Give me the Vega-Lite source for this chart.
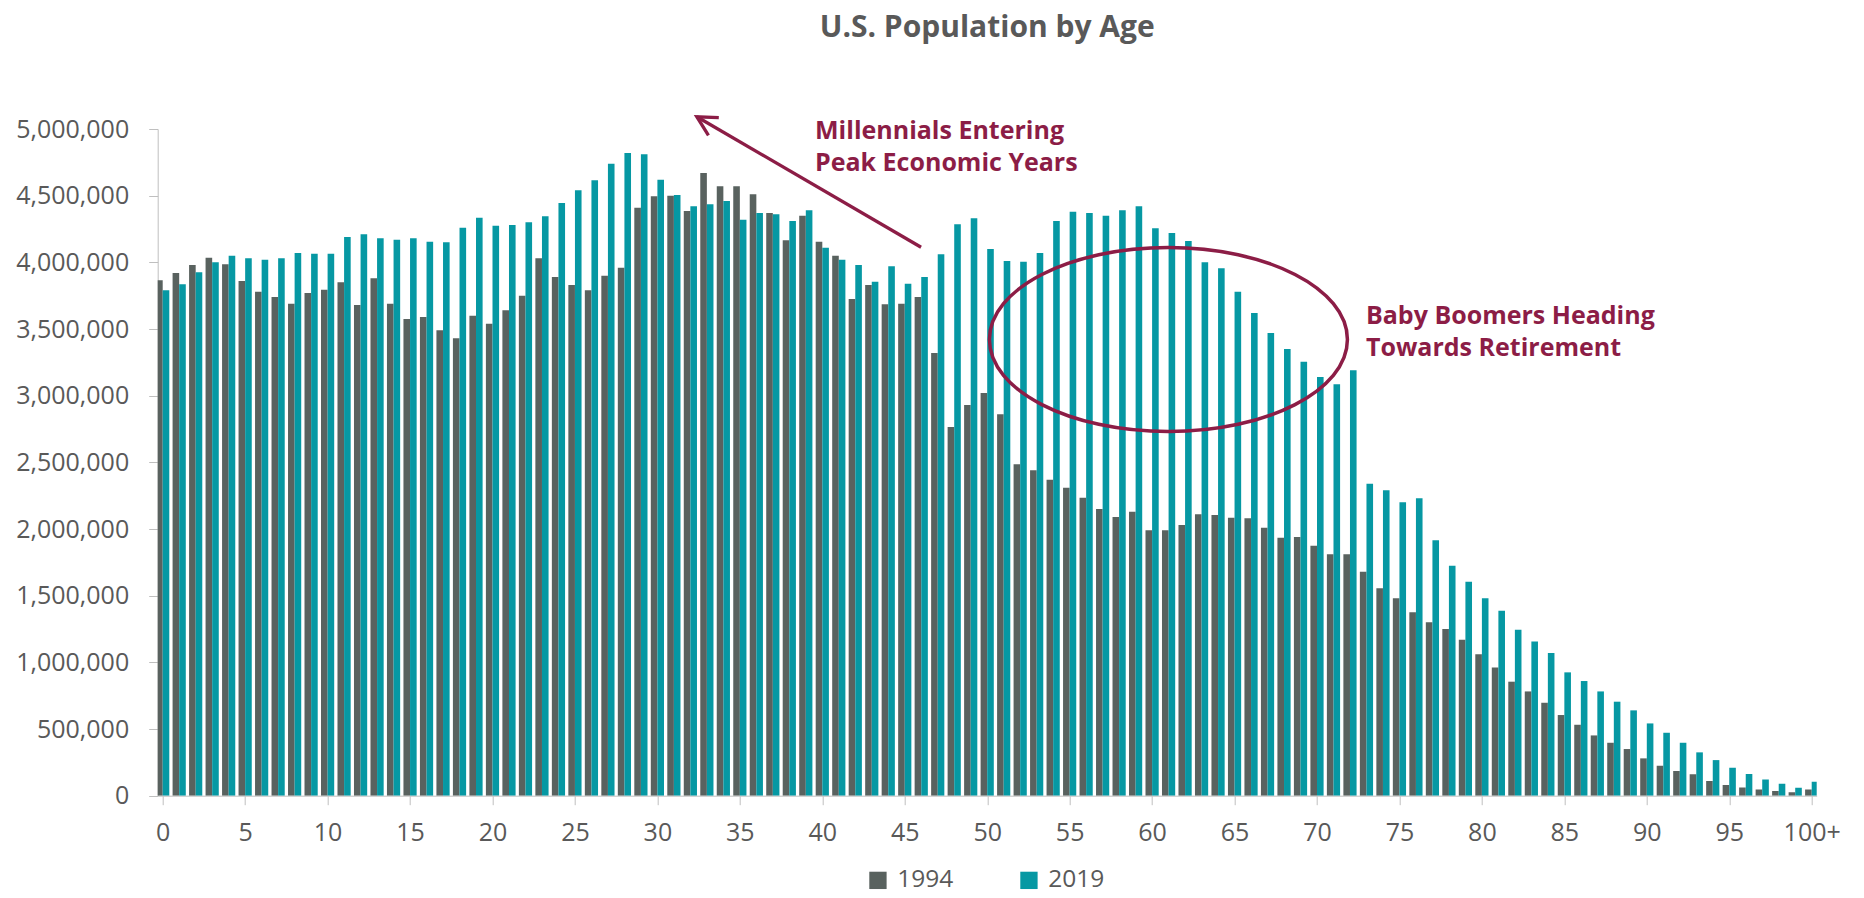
{
  "$schema": "https://vega.github.io/schema/vega-lite/v6.json",
  "width": 1659,
  "height": 666.7,
  "autosize": {"type": "none"},
  "padding": {"left": 157.7, "top": 129, "right": 47.3, "bottom": 102.3},
  "background": "white",
  "title": {"text": "U.S. Population by Age", "font": "Open Sans", "fontSize": 30, "fontWeight": "bold", "color": "#595959", "anchor": "middle", "frame": "group", "offset": 67},
  "config": {"view": {"stroke": null}, "font": "Open Sans"},
  "datasets": {
    "population": [
      {"age":0,"year":"1994","pop":3865000},{"age":1,"year":"1994","pop":3920000},{"age":2,"year":"1994","pop":3980000},{"age":3,"year":"1994","pop":4035000},{"age":4,"year":"1994","pop":3985000},
      {"age":5,"year":"1994","pop":3860000},{"age":6,"year":"1994","pop":3780000},{"age":7,"year":"1994","pop":3740000},{"age":8,"year":"1994","pop":3690000},{"age":9,"year":"1994","pop":3770000},
      {"age":10,"year":"1994","pop":3795000},{"age":11,"year":"1994","pop":3850000},{"age":12,"year":"1994","pop":3680000},{"age":13,"year":"1994","pop":3880000},{"age":14,"year":"1994","pop":3690000},
      {"age":15,"year":"1994","pop":3575000},{"age":16,"year":"1994","pop":3590000},{"age":17,"year":"1994","pop":3490000},{"age":18,"year":"1994","pop":3430000},{"age":19,"year":"1994","pop":3600000},
      {"age":20,"year":"1994","pop":3540000},{"age":21,"year":"1994","pop":3640000},{"age":22,"year":"1994","pop":3750000},{"age":23,"year":"1994","pop":4030000},{"age":24,"year":"1994","pop":3890000},
      {"age":25,"year":"1994","pop":3830000},{"age":26,"year":"1994","pop":3790000},{"age":27,"year":"1994","pop":3900000},{"age":28,"year":"1994","pop":3960000},{"age":29,"year":"1994","pop":4410000},
      {"age":30,"year":"1994","pop":4495000},{"age":31,"year":"1994","pop":4500000},{"age":32,"year":"1994","pop":4385000},{"age":33,"year":"1994","pop":4670000},{"age":34,"year":"1994","pop":4570000},
      {"age":35,"year":"1994","pop":4570000},{"age":36,"year":"1994","pop":4510000},{"age":37,"year":"1994","pop":4370000},{"age":38,"year":"1994","pop":4165000},{"age":39,"year":"1994","pop":4350000},
      {"age":40,"year":"1994","pop":4155000},{"age":41,"year":"1994","pop":4050000},{"age":42,"year":"1994","pop":3725000},{"age":43,"year":"1994","pop":3830000},{"age":44,"year":"1994","pop":3685000},
      {"age":45,"year":"1994","pop":3690000},{"age":46,"year":"1994","pop":3740000},{"age":47,"year":"1994","pop":3320000},{"age":48,"year":"1994","pop":2765000},{"age":49,"year":"1994","pop":2930000},
      {"age":50,"year":"1994","pop":3020000},{"age":51,"year":"1994","pop":2860000},{"age":52,"year":"1994","pop":2485000},{"age":53,"year":"1994","pop":2440000},{"age":54,"year":"1994","pop":2370000},
      {"age":55,"year":"1994","pop":2310000},{"age":56,"year":"1994","pop":2235000},{"age":57,"year":"1994","pop":2150000},{"age":58,"year":"1994","pop":2090000},{"age":59,"year":"1994","pop":2130000},
      {"age":60,"year":"1994","pop":1990000},{"age":61,"year":"1994","pop":1990000},{"age":62,"year":"1994","pop":2030000},{"age":63,"year":"1994","pop":2110000},{"age":64,"year":"1994","pop":2105000},
      {"age":65,"year":"1994","pop":2085000},{"age":66,"year":"1994","pop":2080000},{"age":67,"year":"1994","pop":2010000},{"age":68,"year":"1994","pop":1935000},{"age":69,"year":"1994","pop":1940000},
      {"age":70,"year":"1994","pop":1875000},{"age":71,"year":"1994","pop":1810000},{"age":72,"year":"1994","pop":1810000},{"age":73,"year":"1994","pop":1680000},{"age":74,"year":"1994","pop":1555000},
      {"age":75,"year":"1994","pop":1480000},{"age":76,"year":"1994","pop":1375000},{"age":77,"year":"1994","pop":1300000},{"age":78,"year":"1994","pop":1250000},{"age":79,"year":"1994","pop":1170000},
      {"age":80,"year":"1994","pop":1060000},{"age":81,"year":"1994","pop":962000},{"age":82,"year":"1994","pop":855000},{"age":83,"year":"1994","pop":782000},{"age":84,"year":"1994","pop":697000},
      {"age":85,"year":"1994","pop":605000},{"age":86,"year":"1994","pop":532000},{"age":87,"year":"1994","pop":452000},{"age":88,"year":"1994","pop":397000},{"age":89,"year":"1994","pop":350000},
      {"age":90,"year":"1994","pop":280000},{"age":91,"year":"1994","pop":225000},{"age":92,"year":"1994","pop":185000},{"age":93,"year":"1994","pop":160000},{"age":94,"year":"1994","pop":110000},
      {"age":95,"year":"1994","pop":80000},{"age":96,"year":"1994","pop":62000},{"age":97,"year":"1994","pop":47000},{"age":98,"year":"1994","pop":35000},{"age":99,"year":"1994","pop":25000},
      {"age":100,"year":"1994","pop":47000},
      {"age":0,"year":"2019","pop":3790000},{"age":1,"year":"2019","pop":3835000},{"age":2,"year":"2019","pop":3925000},{"age":3,"year":"2019","pop":4000000},{"age":4,"year":"2019","pop":4050000},
      {"age":5,"year":"2019","pop":4030000},{"age":6,"year":"2019","pop":4020000},{"age":7,"year":"2019","pop":4030000},{"age":8,"year":"2019","pop":4070000},{"age":9,"year":"2019","pop":4065000},
      {"age":10,"year":"2019","pop":4065000},{"age":11,"year":"2019","pop":4190000},{"age":12,"year":"2019","pop":4210000},{"age":13,"year":"2019","pop":4180000},{"age":14,"year":"2019","pop":4170000},
      {"age":15,"year":"2019","pop":4180000},{"age":16,"year":"2019","pop":4155000},{"age":17,"year":"2019","pop":4150000},{"age":18,"year":"2019","pop":4260000},{"age":19,"year":"2019","pop":4335000},
      {"age":20,"year":"2019","pop":4275000},{"age":21,"year":"2019","pop":4280000},{"age":22,"year":"2019","pop":4300000},{"age":23,"year":"2019","pop":4345000},{"age":24,"year":"2019","pop":4445000},
      {"age":25,"year":"2019","pop":4540000},{"age":26,"year":"2019","pop":4615000},{"age":27,"year":"2019","pop":4740000},{"age":28,"year":"2019","pop":4820000},{"age":29,"year":"2019","pop":4810000},
      {"age":30,"year":"2019","pop":4620000},{"age":31,"year":"2019","pop":4505000},{"age":32,"year":"2019","pop":4420000},{"age":33,"year":"2019","pop":4435000},{"age":34,"year":"2019","pop":4460000},
      {"age":35,"year":"2019","pop":4320000},{"age":36,"year":"2019","pop":4370000},{"age":37,"year":"2019","pop":4360000},{"age":38,"year":"2019","pop":4310000},{"age":39,"year":"2019","pop":4390000},
      {"age":40,"year":"2019","pop":4110000},{"age":41,"year":"2019","pop":4020000},{"age":42,"year":"2019","pop":3980000},{"age":43,"year":"2019","pop":3855000},{"age":44,"year":"2019","pop":3970000},
      {"age":45,"year":"2019","pop":3840000},{"age":46,"year":"2019","pop":3890000},{"age":47,"year":"2019","pop":4060000},{"age":48,"year":"2019","pop":4285000},{"age":49,"year":"2019","pop":4330000},
      {"age":50,"year":"2019","pop":4100000},{"age":51,"year":"2019","pop":4010000},{"age":52,"year":"2019","pop":4005000},{"age":53,"year":"2019","pop":4070000},{"age":54,"year":"2019","pop":4310000},
      {"age":55,"year":"2019","pop":4380000},{"age":56,"year":"2019","pop":4370000},{"age":57,"year":"2019","pop":4350000},{"age":58,"year":"2019","pop":4390000},{"age":59,"year":"2019","pop":4420000},
      {"age":60,"year":"2019","pop":4255000},{"age":61,"year":"2019","pop":4220000},{"age":62,"year":"2019","pop":4160000},{"age":63,"year":"2019","pop":4000000},{"age":64,"year":"2019","pop":3955000},
      {"age":65,"year":"2019","pop":3780000},{"age":66,"year":"2019","pop":3620000},{"age":67,"year":"2019","pop":3470000},{"age":68,"year":"2019","pop":3350000},{"age":69,"year":"2019","pop":3255000},
      {"age":70,"year":"2019","pop":3140000},{"age":71,"year":"2019","pop":3085000},{"age":72,"year":"2019","pop":3190000},{"age":73,"year":"2019","pop":2340000},{"age":74,"year":"2019","pop":2290000},
      {"age":75,"year":"2019","pop":2200000},{"age":76,"year":"2019","pop":2230000},{"age":77,"year":"2019","pop":1915000},{"age":78,"year":"2019","pop":1725000},{"age":79,"year":"2019","pop":1605000},
      {"age":80,"year":"2019","pop":1480000},{"age":81,"year":"2019","pop":1387000},{"age":82,"year":"2019","pop":1245000},{"age":83,"year":"2019","pop":1157000},{"age":84,"year":"2019","pop":1070000},
      {"age":85,"year":"2019","pop":925000},{"age":86,"year":"2019","pop":860000},{"age":87,"year":"2019","pop":782000},{"age":88,"year":"2019","pop":705000},{"age":89,"year":"2019","pop":640000},
      {"age":90,"year":"2019","pop":542000},{"age":91,"year":"2019","pop":472000},{"age":92,"year":"2019","pop":397000},{"age":93,"year":"2019","pop":325000},{"age":94,"year":"2019","pop":267000},
      {"age":95,"year":"2019","pop":210000},{"age":96,"year":"2019","pop":162000},{"age":97,"year":"2019","pop":122000},{"age":98,"year":"2019","pop":90000},{"age":99,"year":"2019","pop":60000},
      {"age":100,"year":"2019","pop":105000}
    ],
    "notes": [
      {"label": "Millennials Entering\nPeak Economic Years", "age": 39.56, "pop": 4923000},
      {"label": "Baby Boomers Heading\nTowards Retirement", "age": 72.97, "pop": 3535000}
    ],
    "arrow": [
      {"age": 32.39, "pop": 5092000, "age2": 45.99, "pop2": 4113000}
    ],
    "circle": [
      {"age": 60.99, "pop": 3421000}
    ]
  },
  "layer": [
    {
      "data": {"name": "population"},
      "transform": [{"filter": "datum.year == '1994'"}],
      "mark": {"type": "bar", "width": 6.6, "xOffset": -3.3, "clip": true},
      "encoding": {
        "x": {"field": "age", "type": "quantitative", "scale": {"domain": [0, 100], "nice": false, "zero": false},
          "axis": {"title": null, "values": [0,5,10,15,20,25,30,35,40,45,50,55,60,65,70,75,80,85,90,95,100], "labelExpr": "datum.value == 100 ? '100+' : datum.label", "labelFlush": false, "labelOverlap": false, "labelAlign": "center", "grid": false, "domainColor": "#BFBFBF", "tickColor": "#BFBFBF", "tickSize": 9, "labelColor": "#595959", "labelFont": "Open Sans", "labelFontSize": 25, "labelPadding": 16}},
        "y": {"field": "pop", "type": "quantitative", "scale": {"domain": [0, 5000000], "nice": false},
          "axis": {"title": null, "values": [0,500000,1000000,1500000,2000000,2500000,3000000,3500000,4000000,4500000,5000000], "format": ",d", "grid": false, "domainColor": "#BFBFBF", "tickColor": "#BFBFBF", "tickSize": 9, "labelColor": "#595959", "labelFont": "Open Sans", "labelFontSize": 25, "labelPadding": 20}},
        "color": {"field": "year", "type": "nominal", "scale": {"domain": ["1994", "2019"], "range": ["#59625F", "#0698A3"]},
          "legend": {"title": null, "orient": "none", "direction": "horizontal", "legendX": 708, "legendY": 739, "symbolType": "square", "symbolSize": 300, "symbolStrokeWidth": 0, "labelFont": "Open Sans", "labelFontSize": 24.5, "labelColor": "#595959", "labelOffset": 7, "columnPadding": 63, "padding": 0}}
      }
    },
    {
      "data": {"name": "population"},
      "transform": [{"filter": "datum.year == '2019'"}],
      "mark": {"type": "bar", "width": 6.6, "xOffset": 3.3, "clip": true},
      "encoding": {
        "x": {"field": "age", "type": "quantitative"},
        "y": {"field": "pop", "type": "quantitative"},
        "color": {"field": "year", "type": "nominal"}
      }
    },
    {
      "data": {"name": "arrow"},
      "mark": {"type": "rule", "color": "#8C1D46", "strokeWidth": 3.3},
      "encoding": {
        "x": {"field": "age", "type": "quantitative"},
        "y": {"field": "pop", "type": "quantitative"},
        "x2": {"field": "age2"},
        "y2": {"field": "pop2"}
      }
    },
    {
      "data": {"name": "arrow"},
      "mark": {"type": "point", "shape": "M 0.9994 0.036 L 0 0 L 0.529 0.8486", "size": 1936, "filled": false, "stroke": "#8C1D46", "strokeWidth": 3.3, "opacity": 1, "strokeJoin": "miter"},
      "encoding": {
        "x": {"field": "age", "type": "quantitative"},
        "y": {"field": "pop", "type": "quantitative"}
      }
    },
    {
      "data": {"name": "circle"},
      "mark": {"type": "point", "shape": "M -1 0 A 1 0.514 0 1 1 1 0 A 1 0.514 0 1 1 -1 0 Z", "size": 128164, "filled": false, "stroke": "#8C1D46", "strokeWidth": 3.5, "opacity": 1},
      "encoding": {
        "x": {"field": "age", "type": "quantitative"},
        "y": {"field": "pop", "type": "quantitative"}
      }
    },
    {
      "data": {"name": "notes"},
      "mark": {"type": "text", "align": "left", "baseline": "alphabetic", "lineBreak": "\n", "lineHeight": 31.7, "font": "Open Sans", "fontSize": 25, "fontWeight": "bold", "color": "#8C1D46"},
      "encoding": {
        "x": {"field": "age", "type": "quantitative"},
        "y": {"field": "pop", "type": "quantitative"},
        "text": {"field": "label"}
      }
    }
  ]
}
